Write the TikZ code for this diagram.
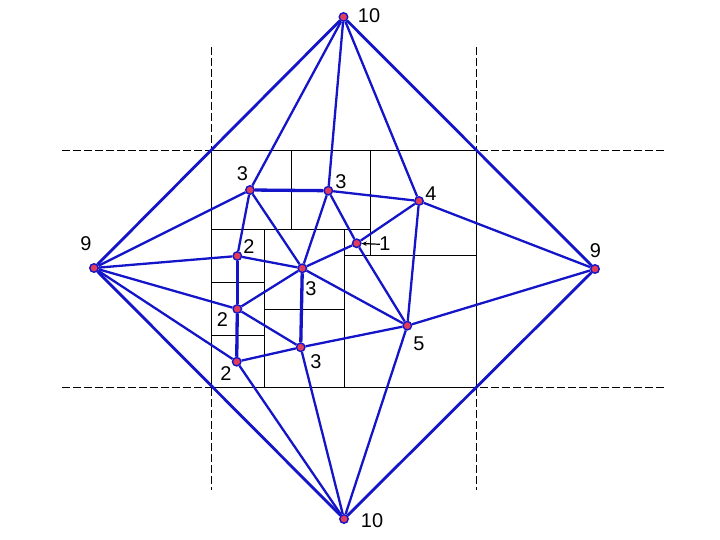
\documentclass[tikz,border=0pt]{standalone}
\usepackage{fontspec}
\setmainfont{Liberation Sans}
\usetikzlibrary{arrows.meta}
\definecolor{edgeblue}{RGB}{20,20,200}
\definecolor{vtxred}{RGB}{225,60,90}
\begin{document}
\begin{tikzpicture}[x=1bp,y=-1bp,
  vtx/.style={circle,draw=edgeblue,fill=vtxred,line width=1.4bp,minimum size=8.5bp,inner sep=0pt},
  edge/.style={draw=edgeblue,line width=2.3bp},
  thickedge/.style={draw=edgeblue,line width=3.3bp},
  outeredge/.style={draw=edgeblue,line width=2.8bp},
  grid/.style={draw=black,line width=0.9bp},
  guide/.style={draw=black,line width=0.9bp,dash pattern=on 8bp off 3bp},
  lbl/.style={font=\fontsize{20}{24}\selectfont,inner sep=0pt,anchor=center}]
\useasboundingbox (0,0) rectangle (720,540);
% guides
\draw[guide] (211,47) -- (211,490);
\draw[guide] (476,47) -- (476,490);
\draw[guide] (62,150) -- (666,150);
\draw[guide] (62,387.5) -- (666,387.5);
% quadtree grid
\draw[grid] (211,150) rectangle (476,387.5);
\draw[grid] (291.7,150) -- (291.7,229.3);
\draw[grid] (370.7,150) -- (370.7,255);
\draw[grid] (211,229.3) -- (370.7,229.3);
\draw[grid] (344,255) -- (476,255);
\draw[grid] (344,229.3) -- (344,387.5);
\draw[grid] (264.3,229.3) -- (264.3,387.5);
\draw[grid] (211,282.5) -- (264.3,282.5);
\draw[grid] (211,335) -- (264.3,335);
\draw[grid] (264.3,309.3) -- (344,309.3);
% vertices
\node[vtx] (T) at (343.5,17) {};
\node[vtx] (B) at (344,519) {};
\node[vtx] (L) at (94,268) {};
\node[vtx] (R) at (595,269) {};
\node[vtx] (tl) at (250,190) {};
\node[vtx] (tm) at (328.3,190.7) {};
\node[vtx] (f) at (419,201) {};
\node[vtx] (o) at (356.7,243.3) {};
\node[vtx] (u) at (237.3,256) {};
\node[vtx] (c) at (302.3,268.3) {};
\node[vtx] (m) at (237.3,309) {};
\node[vtx] (v) at (407.3,325.7) {};
\node[vtx] (lo) at (300.7,347.3) {};
\node[vtx] (d) at (236.7,361.7) {};
% outer edges
\draw[outeredge] (T) -- (L);
\draw[outeredge] (T) -- (R);
\draw[outeredge] (B) -- (L);
\draw[outeredge] (B) -- (R);
% edges
\draw[edge] (T) -- (tl);
\draw[edge] (T) -- (tm);
\draw[edge] (T) -- (f);
\draw[edge] (B) -- (d);
\draw[edge] (B) -- (lo);
\draw[edge] (B) -- (v);
\draw[edge] (L) -- (tl);
\draw[edge] (L) -- (u);
\draw[edge] (L) -- (m);
\draw[edge] (L) -- (d);
\draw[edge] (R) -- (f);
\draw[edge] (R) -- (v);
\draw[thickedge] (tl) -- (tm);
\draw[edge] (tl) -- (u);
\draw[edge] (tl) -- (c);
\draw[edge] (tm) -- (f);
\draw[edge] (tm) -- (c);
\draw[edge] (tm) -- (o);
\draw[edge] (f) -- (o);
\draw[edge] (f) -- (v);
\draw[edge] (o) -- (c);
\draw[edge] (o) -- (v);
\draw[edge] (u) -- (c);
\draw[thickedge] (u) -- (m);
\draw[edge] (c) -- (m);
\draw[thickedge] (c) -- (lo);
\draw[edge] (c) -- (v);
\draw[edge] (m) -- (lo);
\draw[thickedge] (m) -- (d);
\draw[edge] (d) -- (lo);
\draw[edge] (lo) -- (v);
% labels
\node[lbl] (lT) at (369,15.5) {10};
\node[lbl] (lB) at (372,520.5) {10};
\node[lbl] (lL) at (86,243.5) {9};
\node[lbl] (lR) at (595.5,250.5) {9};
\node[lbl] (ltl) at (242.5,174) {3};
\node[lbl] (ltm) at (341,181.5) {3};
\node[lbl] (lf) at (431,194) {4};
\node[lbl] (lo1) at (385,244) {1};
\node[lbl] (lu) at (249,246.5) {2};
\node[lbl] (lc) at (311,288.5) {3};
\node[lbl] (lm) at (222.5,320) {2};
\node[lbl] (lv) at (419,343.5) {5};
\node[lbl] (llo) at (316,361.5) {3};
\node[lbl] (ld) at (226,373.5) {2};
\coordinate (arrs) at (380,244.3);
\draw[black,line width=1.2bp,-{Stealth[length=5bp,width=4.5bp]}] (arrs) -- (o);
\end{tikzpicture}
\end{document}
